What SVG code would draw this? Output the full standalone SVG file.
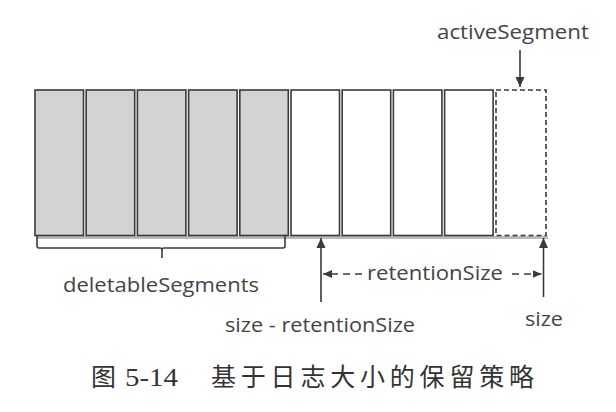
<svg xmlns="http://www.w3.org/2000/svg" width="616" height="412" viewBox="0 0 616 412">
<defs>
<marker id="ah" markerWidth="12" markerHeight="12" refX="10" refY="6" orient="auto" markerUnits="userSpaceOnUse"><path d="M0,1.5 L10,6 L0,10.5 Z" fill="#3a3a3a"/></marker>
<marker id="ahs" markerWidth="10" markerHeight="10" refX="9" refY="5" orient="auto" markerUnits="userSpaceOnUse"><path d="M0,1 L9,5 L0,9 Z" fill="#3a3a3a"/></marker>
</defs>
<style>
.seg{stroke:#3a3a3a;stroke-width:1.6}
.del{fill:#d3d3d3}
.keep{fill:#ffffff}
.act{fill:#ffffff;stroke:#3a3a3a;stroke-width:1.6;stroke-dasharray:5 3}
.lbl{font-family:"Open Sans","Liberation Sans",sans-serif;font-size:20px;fill:#444}
.ln{stroke:#3a3a3a;stroke-width:1.6;fill:none}
.cap{font-family:"Noto Sans CJK SC","Liberation Serif",serif;font-size:25px;fill:#333}
.num{font-family:"Liberation Serif",serif;font-size:26px;fill:#333}
</style>
<rect width="616" height="412" fill="#ffffff"/>
<rect x="36" y="236" width="512" height="3" fill="#bbbbbb"/>
<g id="seg1"><rect class="seg del" x="35" y="90" width="48.5" height="145.5"/></g>
<g id="seg2"><rect class="seg del" x="86.2" y="90" width="48.5" height="145.5"/></g>
<g id="seg3"><rect class="seg del" x="137.4" y="90" width="48.5" height="145.5"/></g>
<g id="seg4"><rect class="seg del" x="188.6" y="90" width="48.5" height="145.5"/></g>
<g id="seg5"><rect class="seg del" x="239.8" y="90" width="48.5" height="145.5"/></g>
<g id="seg6"><rect class="seg keep" x="291" y="90" width="48.5" height="145.5"/></g>
<g id="seg7"><rect class="seg keep" x="342.2" y="90" width="48.5" height="145.5"/></g>
<g id="seg8"><rect class="seg keep" x="393.4" y="90" width="48.5" height="145.5"/></g>
<g id="seg9"><rect class="seg keep" x="444.6" y="90" width="48.5" height="145.5"/></g>
<g id="activeSegment"><rect class="act" x="496" y="90" width="50" height="145.5"/>
<text class="lbl" x="437" y="39" textLength="152" lengthAdjust="spacingAndGlyphs">activeSegment</text></g>
<g id="deletableSegments">
<path class="ln" d="M37,236 L37,246 Q37,248 39,248 L160,248 Q162,248 162,250 L162,258 M162,250 Q162,248 164,248 L283,248 Q285,248 285,246 L285,236"/>
<text class="lbl" x="63" y="292" textLength="196" lengthAdjust="spacingAndGlyphs">deletableSegments</text>
</g>
<g id="sizeMinus"><text class="lbl" x="225" y="332" textLength="190" lengthAdjust="spacingAndGlyphs">size - retentionSize</text></g>
<g id="size"><text class="lbl" x="525" y="326" textLength="38" lengthAdjust="spacingAndGlyphs">size</text></g>
<g id="retentionSize"><text class="lbl" x="367" y="280" textLength="136" lengthAdjust="spacingAndGlyphs">retentionSize</text></g>
<g id="connectors">
<line class="ln" x1="520" y1="50" x2="520" y2="87" marker-end="url(#ah)"/>
<line class="ln" x1="321" y1="302" x2="321" y2="238" marker-end="url(#ah)"/>
<line class="ln" x1="543.5" y1="297" x2="543.5" y2="238" marker-end="url(#ah)"/>
<line class="ln" x1="362" y1="274" x2="323" y2="274" stroke-dasharray="7 5" stroke-dashoffset="0" marker-end="url(#ahs)"/>
<line class="ln" x1="512" y1="274" x2="541.5" y2="274" stroke-dasharray="7 5" marker-end="url(#ahs)"/>
</g>
<g id="caption">
<text class="cap" x="91" y="386">图</text>
<text class="num" x="125" y="386" textLength="53" lengthAdjust="spacingAndGlyphs">5-14</text>
<text class="cap" x="211" y="386" textLength="323" lengthAdjust="spacing">基于日志大小的保留策略</text>
</g>
</svg>
